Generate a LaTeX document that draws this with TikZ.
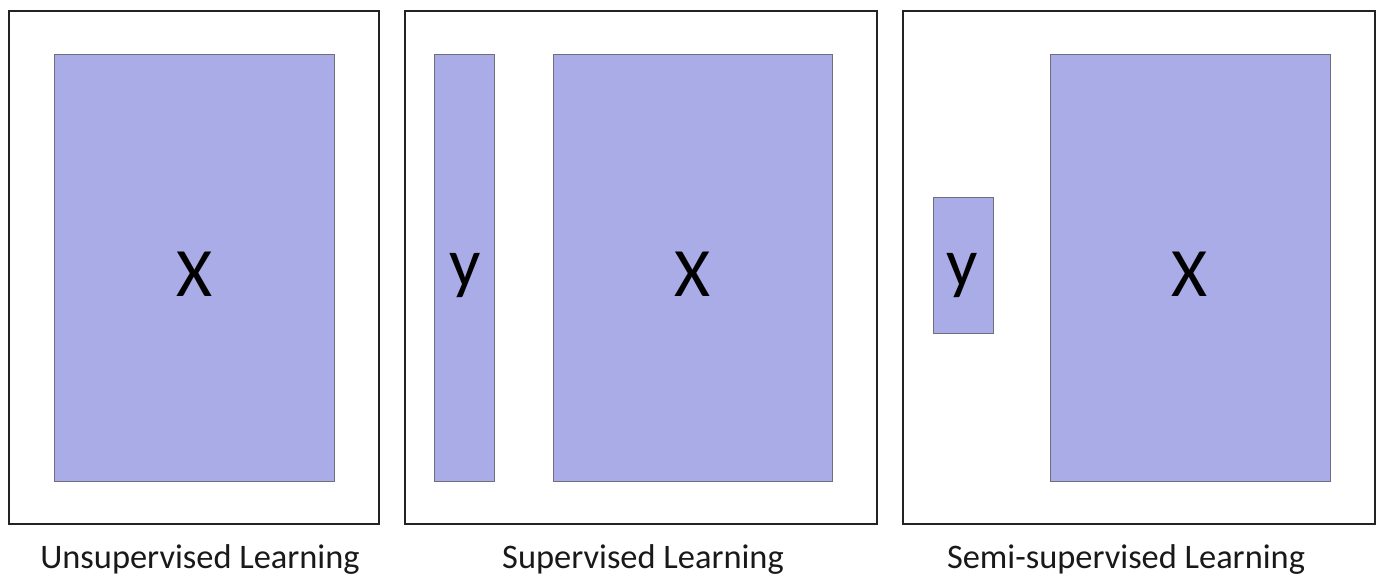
\documentclass[tikz,border=0pt]{standalone}
\usepackage{fontspec}
\setmainfont{Carlito}
\usetikzlibrary{positioning}
\definecolor{lavender}{RGB}{170,172,232}
\definecolor{framegray}{RGB}{110,110,125}
\definecolor{panelline}{RGB}{35,35,35}

\begin{document}
\begin{tikzpicture}[x=0.75pt,y=-0.75pt]
  \tikzstyle{panel}=[rectangle,draw=panelline,line width=1.9pt,minimum height=384.75pt,inner sep=0pt]
  \tikzstyle{block}=[rectangle,draw=framegray,line width=0.6pt,fill=lavender,inner sep=0pt]
  \tikzstyle{letter}=[font=\fontsize{52}{52}\selectfont,inner sep=0pt]
  \tikzstyle{caption}=[font=\fontsize{25.8}{26}\selectfont,text=black!90]

  \useasboundingbox (0,0) rectangle (1380,579);

  % unsupervised
  \node [panel,minimum width=277.5pt] (p1) at (194,267.5) {};
  \node [block,minimum width=210pt,minimum height=320.25pt] (x1) at (194,267.5) {};
  \node [letter] (lx1) at (194,274) {X};
  \node [caption] (c1) at (200,560) {Unsupervised Learning};

  % supervised
  \node [panel,minimum width=354pt] (p2) at (641,267.5) {};
  \node [block,minimum width=45pt,minimum height=320.25pt] (y2) at (464,267.5) {};
  \node [letter] (ly2) at (465,276) {y};
  \node [block,minimum width=209.25pt,minimum height=320.25pt] (x2) at (692.5,267.5) {};
  \node [letter] (lx2) at (692,274) {X};
  \node [caption] (c2) at (643,560) {Supervised Learning};

  % semi-supervised
  \node [panel,minimum width=354pt] (p3) at (1139,267.5) {};
  \node [block,minimum width=45pt,minimum height=102pt] (y3) at (963,265) {};
  \node [letter] (ly3) at (962,276) {y};
  \node [block,minimum width=210pt,minimum height=320.25pt] (x3) at (1190,267.5) {};
  \node [letter] (lx3) at (1189,274) {X};
  \node [caption] (c3) at (1126,560) {Semi-supervised Learning};
\end{tikzpicture}
\end{document}
